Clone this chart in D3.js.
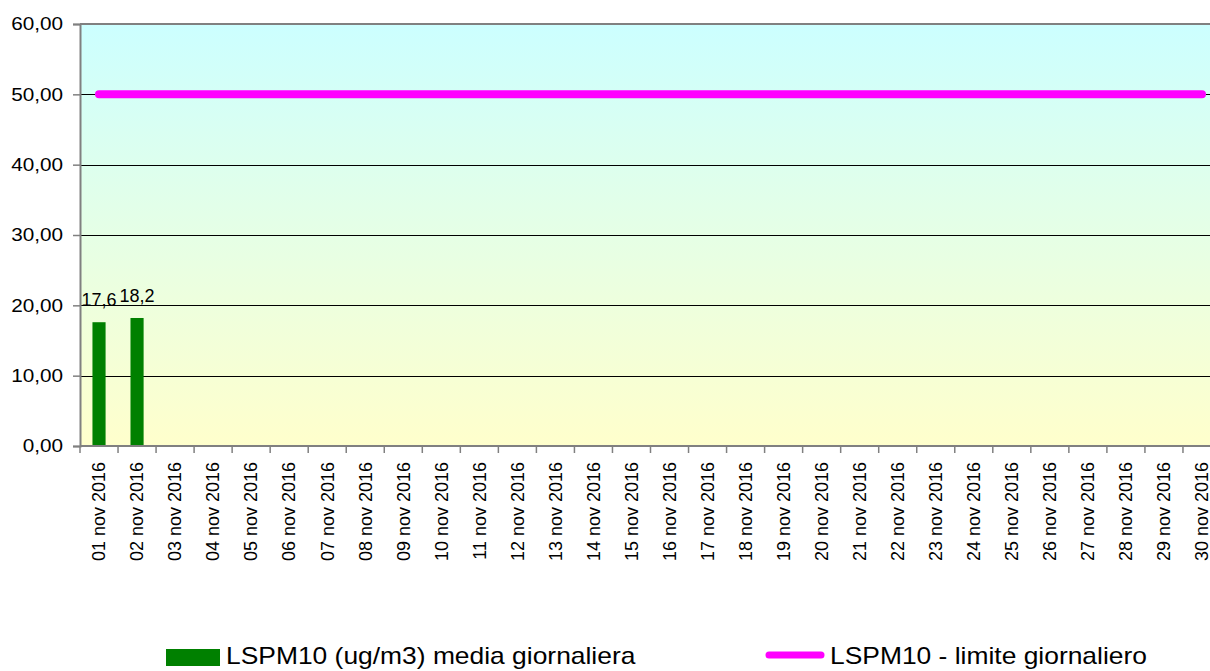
<!DOCTYPE html>
<html>
<head>
<meta charset="utf-8">
<script src="https://cdn.jsdelivr.net/npm/d3@7"></script>
<style>
  body { margin: 0; background: #fff; }
  text { font-family: "Liberation Sans", Arial, sans-serif; fill: #000; }
</style>
</head>
<body>
<div id="chart"></div>
<script>
// chart data
const days = ["01","02","03","04","05","06","07","08","09","10","11","12","13","14","15",
              "16","17","18","19","20","21","22","23","24","25","26","27","28","29","30"];
const dayLabels = days.map(d => d + " nov 2016");
const pm10 = [17.6, 18.2, null, null, null, null, null, null, null, null, null, null, null, null, null,
              null, null, null, null, null, null, null, null, null, null, null, null, null, null, null];
const limit = [50,50,50,50,50,50,50,50,50,50,50,50,50,50,50,50,50,50,50,50,50,50,50,50,50,50,50,50,50,50];
const yTicks = [0, 10, 20, 30, 40, 50, 60];
const seriesNames = ["LSPM10 (ug/m3) media giornaliera", "LSPM10 - limite giornaliero"];

const width = 1210;
const height = 671;
const plotLeft = 80, plotTop = 24, plotBottom = 446, plotRight = 1221;

const svg = d3.select("#chart")
  .append("svg")
  .attr("width", width)
  .attr("height", height);

// stretch text a bit wider, like the original export
function stretch(sel, k) {
  sel.each(function() {
    const w = this.getComputedTextLength();
    d3.select(this).attr("textLength", w * k).attr("lengthAdjust", "spacingAndGlyphs");
  });
}

const x = d3.scaleBand()
  .domain(dayLabels)
  .range([plotLeft, plotRight])
  .padding(0);

const y = d3.scaleLinear()
  .domain([0, 60])
  .range([plotBottom, plotTop]);

// background gradient
const grad = svg.append("defs").append("linearGradient")
  .attr("id", "bg")
  .attr("x1", 0).attr("y1", 0).attr("x2", 0).attr("y2", 1);
grad.append("stop").attr("offset", "0%").attr("stop-color", "#ccffff");
grad.append("stop").attr("offset", "100%").attr("stop-color", "#ffffcc");

svg.append("rect")
  .attr("x", plotLeft)
  .attr("y", plotTop)
  .attr("width", plotRight - plotLeft)
  .attr("height", plotBottom - plotTop)
  .attr("fill", "url(#bg)");

// gridlines
svg.append("g")
  .selectAll("line")
  .data(yTicks.filter(d => d > 0 && d < 60))
  .enter()
  .append("line")
  .attr("x1", plotLeft)
  .attr("x2", plotRight)
  .attr("y1", d => Math.round(y(d)) + 0.5)
  .attr("y2", d => Math.round(y(d)) + 0.5)
  .attr("stroke", "#000")
  .attr("stroke-width", 1);

// top border
svg.append("line")
  .attr("x1", plotLeft).attr("x2", plotRight)
  .attr("y1", plotTop).attr("y2", plotTop)
  .attr("stroke", "#808080")
  .attr("stroke-width", 2);

// bars
const barW = x.bandwidth() * 0.345;
const barData = dayLabels.map((d, i) => ({ day: d, v: pm10[i] })).filter(d => d.v != null);

svg.append("g")
  .selectAll("rect")
  .data(barData)
  .enter()
  .append("rect")
  .attr("x", d => x(d.day) + (x.bandwidth() - barW) / 2)
  .attr("y", d => y(d.v))
  .attr("width", barW)
  .attr("height", d => y(0) - y(d.v))
  .attr("fill", "#008000");

// bar value labels
svg.append("g")
  .selectAll("text")
  .data(barData)
  .enter()
  .append("text")
  .attr("x", d => x(d.day) + x.bandwidth() / 2)
  .attr("y", d => y(d.v) - 16)
  .attr("text-anchor", "middle")
  .style("font-size", "18px")
  .text(d => String(d.v).replace(".", ","));

// limit line
const line = d3.line()
  .x((d, i) => x(dayLabels[i]) + x.bandwidth() / 2)
  .y(d => y(d));

svg.append("path")
  .datum(limit)
  .attr("d", line)
  .attr("fill", "none")
  .attr("stroke", "#ff00ff")
  .attr("stroke-width", 8)
  .attr("stroke-linecap", "round");

// y axis
const yAxis = svg.append("g")
  .attr("transform", `translate(${plotLeft},0)`)
  .call(d3.axisLeft(y)
    .tickValues(yTicks)
    .tickSize(7)
    .tickPadding(10)
    .tickFormat(d => d3.format(".2f")(d).replace(".", ",")));
yAxis.attr("font-family", null).attr("font-size", null);
yAxis.select(".domain").attr("stroke", "#808080").attr("stroke-width", 2);
yAxis.selectAll(".tick line").attr("stroke", "#808080").attr("stroke-width", 1.5);
yAxis.selectAll(".tick text")
  .style("font-size", "18.5px")
  .attr("fill", "#000")
  .call(stretch, 1.12);

// x axis
svg.append("line")
  .attr("x1", plotLeft).attr("x2", plotRight)
  .attr("y1", plotBottom).attr("y2", plotBottom)
  .attr("stroke", "#808080")
  .attr("stroke-width", 2);

svg.append("g")
  .selectAll("line")
  .data(dayLabels)
  .enter()
  .append("line")
  .attr("x1", d => x(d))
  .attr("x2", d => x(d))
  .attr("y1", plotBottom)
  .attr("y2", plotBottom + 7)
  .attr("stroke", "#808080")
  .attr("stroke-width", 1.5);

svg.append("g")
  .selectAll("text")
  .data(dayLabels)
  .enter()
  .append("text")
  .attr("transform", d => `translate(${x(d) + x.bandwidth() / 2},462) rotate(-90)`)
  .attr("text-anchor", "end")
  .attr("dy", "0.35em")
  .style("font-size", "18px")
  .text(d => d);

// legend
const legend = svg.append("g");
legend.append("rect")
  .attr("x", 166)
  .attr("y", 649)
  .attr("width", 54)
  .attr("height", 17)
  .attr("fill", "#008000");
legend.append("text")
  .attr("x", 226)
  .attr("y", 664)
  .style("font-size", "24px")
  .text(seriesNames[0])
  .call(stretch, 1.1);

legend.append("line")
  .attr("x1", 769).attr("x2", 821)
  .attr("y1", 655).attr("y2", 655)
  .attr("stroke", "#ff00ff")
  .attr("stroke-width", 7)
  .attr("stroke-linecap", "round");
legend.append("text")
  .attr("x", 830)
  .attr("y", 664)
  .style("font-size", "24px")
  .text(seriesNames[1])
  .call(stretch, 1.1);
</script>
</body>
</html>
